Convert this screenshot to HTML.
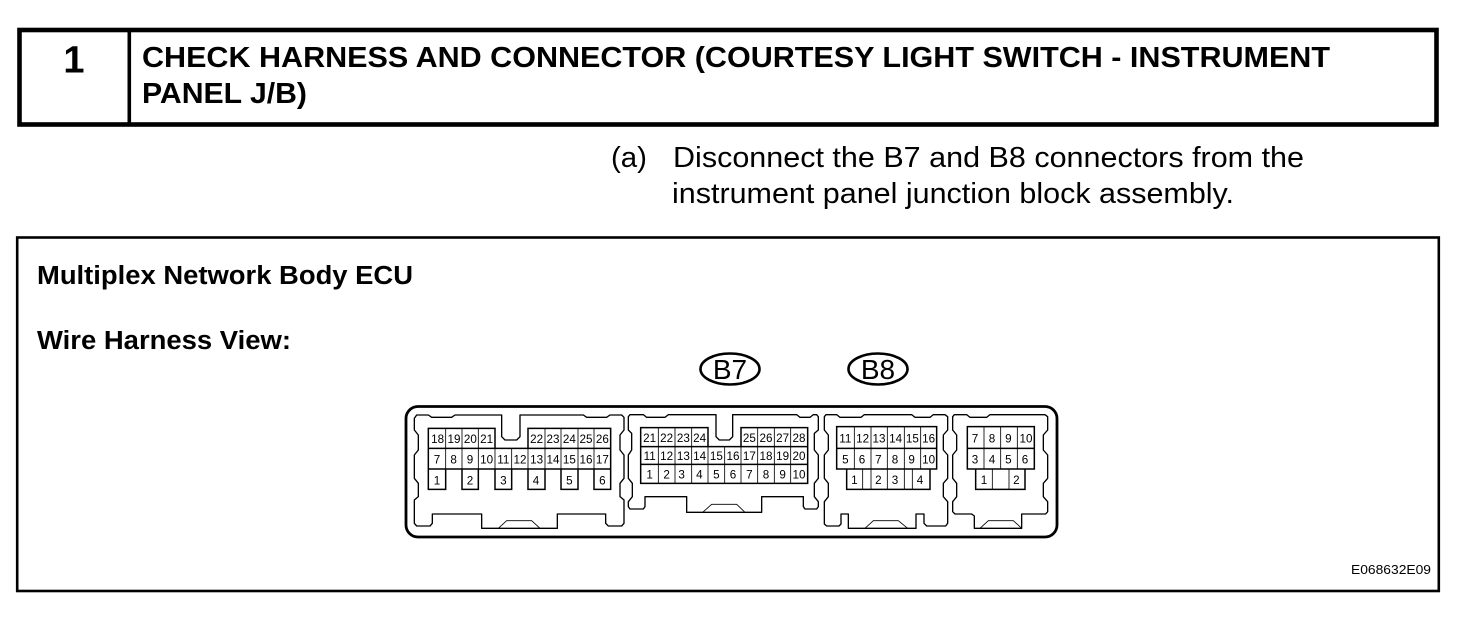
<!DOCTYPE html>
<html lang="en">
<head>
<meta charset="utf-8">
<title>Check Harness and Connector</title>
<style>
html,body{margin:0;padding:0;background:#fff}
svg{display:block;font-family:"Liberation Sans",Arial,sans-serif}
.o{fill:none;stroke:#000;stroke-width:4;stroke-linejoin:round}
.g{fill:none;stroke:#000;stroke-width:4.5}
.t{fill:none;stroke:#000;stroke-width:2.5}
.n{font-size:35px;text-anchor:middle;fill:#000;transform:translateY(2px)}
</style>
</head>
<body>
<svg width="1472" height="622" viewBox="0 0 1472 622" xmlns="http://www.w3.org/2000/svg">
<rect width="1472" height="622" fill="#fff"/>

<!-- Header -->
<rect x="19.5" y="30" width="1417" height="94.5" fill="none" stroke="#000" stroke-width="4.6"/>
<rect x="127.5" y="30" width="3.6" height="94" fill="#000"/>
<text x="74" y="72.5" font-size="38" font-weight="bold" text-anchor="middle">1</text>
<text x="142" y="67" font-size="28.5" font-weight="bold" textLength="1188" lengthAdjust="spacingAndGlyphs">CHECK HARNESS AND CONNECTOR (COURTESY LIGHT SWITCH - INSTRUMENT</text>
<text x="142" y="103" font-size="28.5" font-weight="bold" textLength="165" lengthAdjust="spacingAndGlyphs">PANEL J/B)</text>

<!-- Step -->
<text x="611" y="167" font-size="29" textLength="36" lengthAdjust="spacingAndGlyphs">(a)</text>
<text x="673" y="167" font-size="29" textLength="631" lengthAdjust="spacingAndGlyphs">Disconnect the B7 and B8 connectors from the</text>
<text x="672" y="203" font-size="29" textLength="562" lengthAdjust="spacingAndGlyphs">instrument panel junction block assembly.</text>

<!-- Lower box -->
<rect x="17.2" y="237.5" width="1421.6" height="353.5" fill="none" stroke="#000" stroke-width="2.6"/>
<text x="37" y="284" font-size="25.5" font-weight="bold" textLength="376" lengthAdjust="spacingAndGlyphs">Multiplex Network Body ECU</text>
<text x="37" y="349" font-size="25.5" font-weight="bold" textLength="254" lengthAdjust="spacingAndGlyphs">Wire Harness View:</text>
<text x="1351" y="574" font-size="13" textLength="80" lengthAdjust="spacingAndGlyphs">E068632E09</text>

<!-- Labels -->
<ellipse cx="730" cy="369" rx="29.5" ry="15.5" fill="none" stroke="#000" stroke-width="2.6"/>
<text x="730" y="379" font-size="28" text-anchor="middle">B7</text>
<ellipse cx="878" cy="369" rx="29.5" ry="15.5" fill="none" stroke="#000" stroke-width="2.6"/>
<text x="878" y="379" font-size="28" text-anchor="middle">B8</text>

<!-- Outer connector body -->
<rect x="406" y="406.5" width="651" height="130.5" rx="12" ry="12" fill="none" stroke="#000" stroke-width="2.8"/>

<!-- Connector 1 -->
<g transform="translate(400 400) scale(.33333)">
<path class="o" d="M43 55L50 45H85L95 52H155L165 45H305V110L315 120H350L360 110V45H550L560 52H620L630 45H665L672 52V90L660 105V150L672 165V235L660 250V290L672 300V370L665 378H625L617 370V342H472V385H245V342H97V370L90 378H50L43 370V300L55 290V250L43 235V165L55 150V105L43 90Z"/>
<path class="t" d="M295 385L320 362H395L420 385"/>
<path class="g" d="M85 145V85H285V145M384 145V85H632V268H582V207M534 207V268H483V207M435 207V268H384V207M335 207V268H285V207M235 207V268H186V207M137 207V268H85V145M85 145H632M85 207H632"/>
<path class="t" d="M137 85V207M186 85V207M235 85V207M285 145V207M335 145V207M384 145V207M435 85V207M483 85V207M534 85V207M582 85V207"/>
<text class="n" x="113" y="127">18</text><text class="n" x="162" y="127">19</text><text class="n" x="211" y="127">20</text><text class="n" x="260" y="127">21</text>
<text class="n" x="410" y="127">22</text><text class="n" x="459" y="127">23</text><text class="n" x="508" y="127">24</text><text class="n" x="558" y="127">25</text><text class="n" x="607" y="127">26</text>
<text class="n" x="111" y="188">7</text><text class="n" x="161" y="188">8</text><text class="n" x="210" y="188">9</text><text class="n" x="260" y="188">10</text><text class="n" x="310" y="188">11</text><text class="n" x="360" y="188">12</text><text class="n" x="410" y="188">13</text><text class="n" x="459" y="188">14</text><text class="n" x="508" y="188">15</text><text class="n" x="558" y="188">16</text><text class="n" x="607" y="188">17</text>
<text class="n" x="111" y="252">1</text><text class="n" x="210" y="252">2</text><text class="n" x="310" y="252">3</text><text class="n" x="408" y="252">4</text><text class="n" x="508" y="252">5</text><text class="n" x="607" y="252">6</text>
</g>

<!-- Connector 2 -->
<g transform="translate(620 400) scale(.33333)">
<path class="o" d="M25 50L30 44H70L80 52H135L145 44H288V110L298 120H328L338 110V44H530L540 52H570L580 44H590L595 50V90L583 100V150L595 165V235L583 250V290L595 305V320L590 327H555L550 320V290H425V337H200V290H75V320L70 327H30L25 320V305L37 290V250L25 235V165L35 150V100L25 90Z"/>
<path class="t" d="M248 337L275 313H350L375 337"/>
<path class="g" d="M62 140V83H264V140M363 140V83H563V250H62V140H563M62 193H563"/>
<path class="t" d="M115 83V250M165 83V250M215 83V250M264 140V250M314 140V250M363 140V250M413 83V250M463 83V250M512 83V250"/>
<text class="n" x="89" y="124">21</text><text class="n" x="140" y="124">22</text><text class="n" x="190" y="124">23</text><text class="n" x="239" y="124">24</text>
<text class="n" x="388" y="124">25</text><text class="n" x="438" y="124">26</text><text class="n" x="488" y="124">27</text><text class="n" x="537" y="124">28</text>
<text class="n" x="89" y="178">11</text><text class="n" x="140" y="178">12</text><text class="n" x="190" y="178">13</text><text class="n" x="239" y="178">14</text><text class="n" x="289" y="178">15</text><text class="n" x="339" y="178">16</text><text class="n" x="388" y="178">17</text><text class="n" x="438" y="178">18</text><text class="n" x="488" y="178">19</text><text class="n" x="537" y="178">20</text>
<text class="n" x="89" y="233">1</text><text class="n" x="140" y="233">2</text><text class="n" x="185" y="233">3</text><text class="n" x="238" y="233">4</text><text class="n" x="289" y="233">5</text><text class="n" x="339" y="233">6</text><text class="n" x="388" y="233">7</text><text class="n" x="438" y="233">8</text><text class="n" x="488" y="233">9</text><text class="n" x="537" y="233">10</text>
</g>

<!-- Connector 3 and 4 -->
<g transform="translate(815 400) scale(.33333)">
<path class="o" d="M28 50L33 44H65L75 52H138L148 44H290L300 52H345L355 44H390L398 50V90L385 105V150L398 165V235L385 250V290L398 305V370L392 378H335L327 370V342H303V385H100V342H78V372L72 378H35L28 372V305L40 290V250L28 235V165L40 150V105L28 90Z"/>
<path class="t" d="M150 385L175 362H250L278 385"/>
<path class="g" d="M65 80H365V207H65ZM65 145H365M95 207V268H345V207"/>
<path class="t" d="M118 80V207M168 80V268M217 80V268M268 80V268M317 80V207M143 207V268M292 207V268"/>
<text class="n" x="91" y="125">11</text><text class="n" x="143" y="125">12</text><text class="n" x="192" y="125">13</text><text class="n" x="242" y="125">14</text><text class="n" x="292" y="125">15</text><text class="n" x="341" y="125">16</text>
<text class="n" x="91" y="188">5</text><text class="n" x="141" y="188">6</text><text class="n" x="190" y="188">7</text><text class="n" x="240" y="188">8</text><text class="n" x="290" y="188">9</text><text class="n" x="341" y="188">10</text>
<text class="n" x="118" y="250">1</text><text class="n" x="190" y="250">2</text><text class="n" x="240" y="250">3</text><text class="n" x="315" y="250">4</text>

<path class="o" d="M413 50L418 44H455L465 52H515L525 44H690L698 50V90L685 105V150L698 165V235L685 250V290L698 305V335L692 342H620V385H478V348L470 342H420L413 335V305L425 290V250L413 235V165L425 150V105L413 90Z"/>
<path class="t" d="M495 385L520 362H595L620 385"/>
<path class="g" d="M457 80H658V207H457ZM457 145H658M482 207V268H630V207"/>
<path class="t" d="M507 80V207M557 80V207M607 80V207M532 207V268M582 207V268"/>
<text class="n" x="480" y="125">7</text><text class="n" x="531" y="125">8</text><text class="n" x="580" y="125">9</text><text class="n" x="633" y="125">10</text>
<text class="n" x="480" y="188">3</text><text class="n" x="531" y="188">4</text><text class="n" x="580" y="188">5</text><text class="n" x="630" y="188">6</text>
<text class="n" x="507" y="250">1</text><text class="n" x="604" y="250">2</text>
</g>
</svg>
</body>
</html>
